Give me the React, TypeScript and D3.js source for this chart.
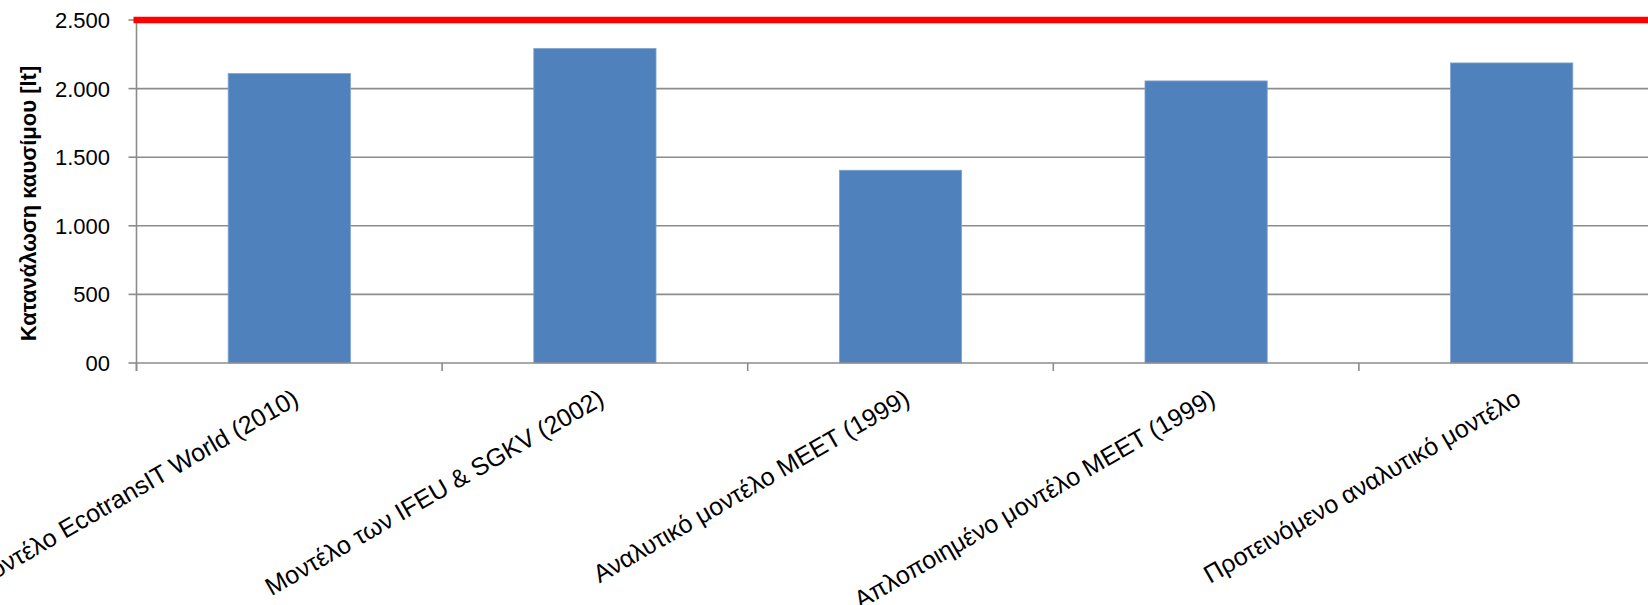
import React from "react";
import * as d3 from "d3";

const categories = [
  "Μοντέλο EcotransIT World (2010)",
  "Μοντέλο των IFEU & SGKV (2002)",
  "Αναλυτικό μοντέλο MEET (1999)",
  "Απλοποιημένο μοντέλο MEET (1999)",
  "Προτεινόμενο αναλυτικό μοντέλο",
];
const fuelValues = [2110, 2292, 1405, 2056, 2187];
const limitValue = 2500;
const yTickValues = [0, 500, 1000, 1500, 2000, 2500];
const yTickLabels = ["00", "500", "1.000", "1.500", "2.000", "2.500"];
const yTitle = "Κατανάλωση καυσίμου [lt]";

const W = 1648;
const H = 605;
const left = 136.5;
const right = 1664.5;
const top = 20;
const bottom = 363;
const FONT = "'Liberation Sans', Arial, sans-serif";

export default function App() {
  const x = d3
    .scaleBand<string>()
    .domain(categories)
    .range([left, right])
    .paddingInner(0.6)
    .paddingOuter(0.3);
  const step = x.step();
  const y = d3.scaleLinear().domain([0, 2500]).range([bottom, top]);
  const boundaries = categories.map((c) => (x(c) as number) - step * 0.3);
  boundaries.push(boundaries[boundaries.length - 1] + step);

  return (
    <svg
      width={W}
      height={H}
      style={{ position: "absolute", left: 0, top: 0, background: "#fff" }}
    >
      {/* gridlines */}
      {yTickValues.slice(1).map((v) => (
        <line
          key={"g" + v}
          x1={left}
          x2={W}
          y1={y(v)}
          y2={y(v)}
          stroke="#8c8c8c"
          strokeWidth={1.6}
        />
      ))}
      {/* bars */}
      {categories.map((c, i) => (
        <rect
          key={c}
          x={x(c)}
          y={y(fuelValues[i])}
          width={x.bandwidth()}
          height={bottom - y(fuelValues[i])}
          fill="#4f81bd"
          stroke="#7fa3d0"
          strokeWidth={0.8}
        />
      ))}
      {/* x axis */}
      <line x1={left} x2={W} y1={bottom} y2={bottom} stroke="#8c8c8c" strokeWidth={1.6} />
      {boundaries.map((b, i) => (
        <line key={"xt" + i} x1={b} x2={b} y1={bottom} y2={bottom + 8} stroke="#8c8c8c" strokeWidth={1.6} />
      ))}
      {/* y axis */}
      <line x1={left} x2={left} y1={top} y2={bottom + 8} stroke="#8c8c8c" strokeWidth={1.6} />
      {yTickValues.map((v, i) => (
        <g key={"yt" + v}>
          <line x1={left - 8} x2={left} y1={y(v)} y2={y(v)} stroke="#8c8c8c" strokeWidth={1.6} />
          <text
            x={110}
            y={y(v)}
            dy="0.36em"
            textAnchor="end"
            fontFamily={FONT}
            fontSize={22}
            fill="#000"
          >
            {yTickLabels[i]}
          </text>
        </g>
      ))}
      {/* limit line */}
      <line
        x1={left - 3}
        x2={W}
        y1={y(limitValue)}
        y2={y(limitValue)}
        stroke="#ff0000"
        strokeWidth={6.5}
      />
      {/* y title */}
      <text
        transform={`translate(36, ${(top + bottom) / 2 + 12}) rotate(-90)`}
        textAnchor="middle"
        fontFamily={FONT}
        fontWeight="bold"
        fontSize={22}
        fill="#000"
      >
        {yTitle}
      </text>
      {/* x labels */}
      {categories.map((c) => {
        const cx = (x(c) as number) + x.bandwidth() / 2;
        return (
          <text
            key={"xl" + c}
            transform={`translate(${cx + 2}, ${bottom + 25}) rotate(-30)`}
            textAnchor="end"
            dy="0.71em"
            fontFamily={FONT}
            fontSize={25}
            fill="#000"
          >
            {c}
          </text>
        );
      })}
    </svg>
  );
}
